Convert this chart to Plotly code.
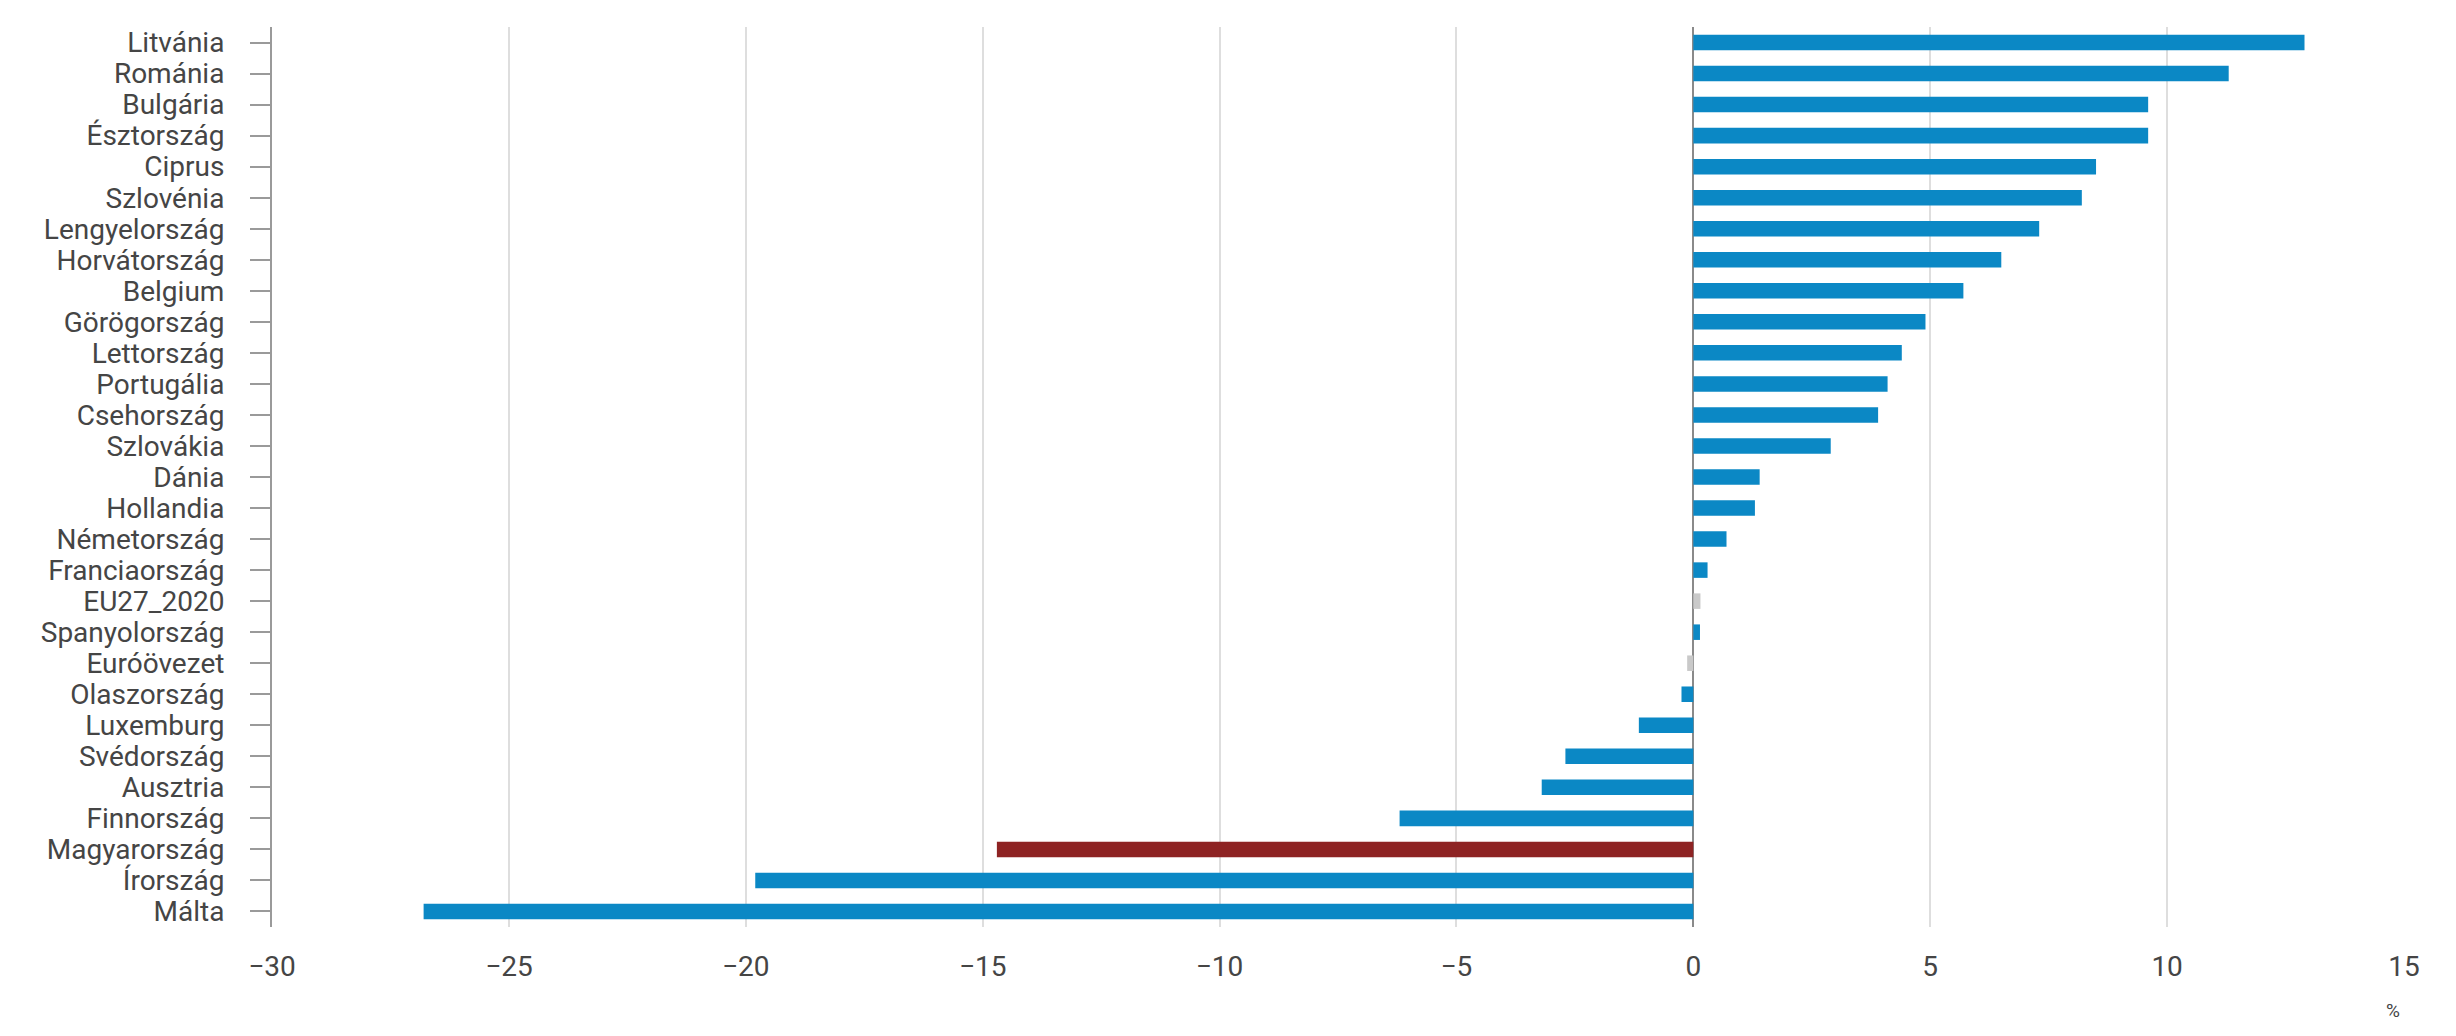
import plotly.graph_objects as go

countries = ["Litvánia", "Románia", "Bulgária", "Észtország", "Ciprus", "Szlovénia",
             "Lengyelország", "Horvátország", "Belgium", "Görögország", "Lettország",
             "Portugália", "Csehország", "Szlovákia", "Dánia", "Hollandia",
             "Németország", "Franciaország", "EU27_2020", "Spanyolország", "Euróövezet",
             "Olaszország", "Luxemburg", "Svédország", "Ausztria", "Finnország",
             "Magyarország", "Írország", "Málta"]
values = [12.9, 11.3, 9.6, 9.6, 8.5, 8.2,
          7.3, 6.5, 5.7, 4.9, 4.4,
          4.1, 3.9, 2.9, 1.4, 1.3,
          0.7, 0.3, 0.15, 0.14, -0.13,
          -0.25, -1.15, -2.7, -3.2, -6.2,
          -14.7, -19.8, -26.8]
x_ticks = [-30, -25, -20, -15, -10, -5, 0, 5, 10, 15]

BLUE = "#0b88c5"
RED = "#8e2323"
GREY = "#c9c9c9"
colors = []
for c in countries:
    if c == "Magyarország":
        colors.append(RED)
    elif c in ("EU27_2020", "Euróövezet"):
        colors.append(GREY)
    else:
        colors.append(BLUE)

fig = go.Figure(go.Bar(
    x=values, y=countries, orientation="h",
    marker=dict(color=colors, line=dict(width=0)),
    width=0.5,
))

# page body has an 8px default margin; size the figure so the page fits exactly
fig.update_layout(
    width=2440, height=1020,
    margin=dict(l=264, r=44, t=19, b=101),
    plot_bgcolor="white", paper_bgcolor="white",
    font=dict(family="Roboto", size=28, color="#454545"),
    showlegend=False,
    bargap=0.5,
)
fig.update_xaxes(
    range=[-30, 15], tickvals=x_ticks,
    showgrid=True, gridcolor="#dedede", gridwidth=1.5,
    zeroline=True, zerolinecolor="#8a8a8a", zerolinewidth=2,
    showline=False, ticks="", ticklabelstandoff=20,
    tickfont=dict(size=28, color="#454545"),
)
fig.update_yaxes(
    categoryorder="array", categoryarray=countries, autorange="reversed",
    tickmode="array", tickvals=countries, ticktext=countries,
    showgrid=False, showline=True, linecolor="#9a9a9a", linewidth=2,
    ticks="outside", ticklen=20, tickcolor="#9a9a9a", tickwidth=1.5,
    ticklabelstandoff=20,
    tickfont=dict(size=28, color="#454545"),
)
fig.add_annotation(
    text="%", xref="paper", yref="paper", x=0.9948, y=-0.108,
    xanchor="center", yanchor="bottom", showarrow=False,
    font=dict(size=19, color="#454545", family="Roboto"),
)

fig.write_html("out.html")
